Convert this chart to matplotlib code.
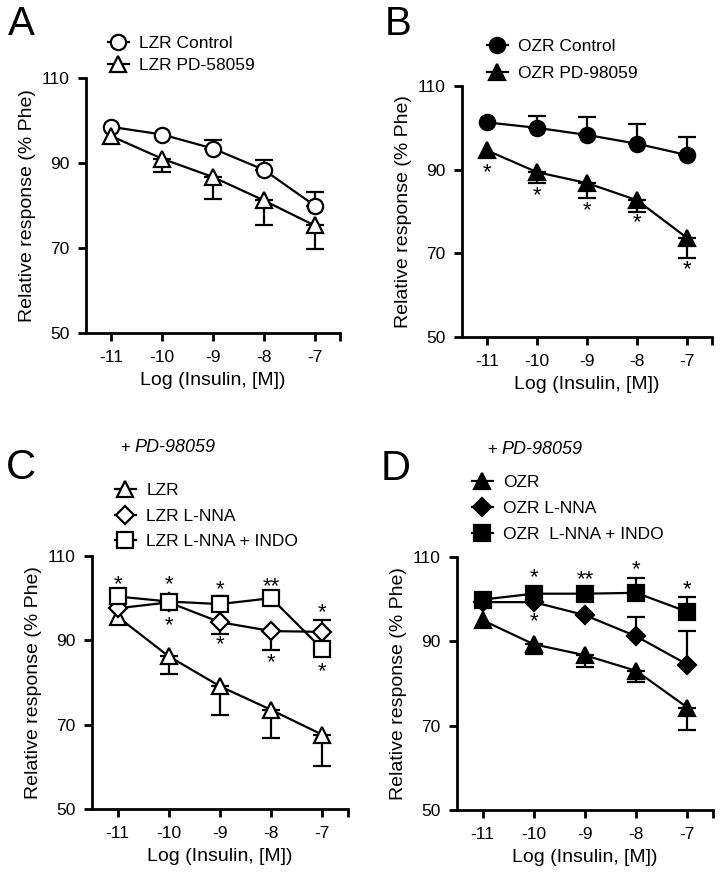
import matplotlib
matplotlib.use("Agg")
import matplotlib.pyplot as plt
from matplotlib.transforms import offset_copy

plt.rcParams["font.family"] = ["Liberation Sans", "DejaVu Sans"]

log_insulin = [-11, -10, -9, -8, -7]

# panel A - lean Zucker rats
lzr_control = [98.5, 96.7, 93.4, 88.4, 80.0]
lzr_control_up = [0, 0, 2.1, 2.4, 3.2]
lzr_pd = [96.3, 91.0, 86.7, 81.2, 75.3]
lzr_pd_down = [0, 3.1, 5.2, 5.7, 5.5]

# panel B - obese Zucker rats
ozr_control = [101.3, 100.0, 98.3, 96.2, 93.5]
ozr_control_up = [0, 2.8, 4.2, 4.7, 4.2]
ozr_pd = [94.6, 89.4, 86.8, 82.7, 73.7]
ozr_pd_down = [0, 2.5, 3.6, 2.7, 4.7]
b_star_x = [-11, -10, -9, -8, -7]
b_star_y = [90.0, 84.4, 80.8, 78.0, 66.9]
b_star_txt = ["*", "*", "*", "*", "*"]

# panel C - LZR + PD-98059
c_lzr = [95.6, 86.2, 79.1, 73.5, 67.6]
c_lzr_down = [0, 4.2, 6.7, 6.7, 7.5]
c_lnna = [97.6, 99.0, 94.3, 92.2, 92.0]
c_lnna_down = [0, 0, 2.8, 4.4, 0]
c_lnna_up = [0, 0, 0, 0, 2.9]
c_indo = [100.4, 99.2, 98.6, 100.0, 87.9]
c_indo_up = [0, 0, 1.8, 0, 0]
c_star_x = [-11, -10, -9, -8, -7, -10, -9, -8, -7]
c_star_y = [103.9, 103.9, 102.7, 103.5, 97.2, 94.1, 89.7, 85.5, 83.2]
c_star_txt = ["*", "*", "*", "**", "*", "*", "*", "*", "*"]

# panel D - OZR + PD-98059
d_ozr = [95.0, 89.3, 86.7, 83.0, 74.3]
d_ozr_down = [0, 2.4, 2.9, 2.6, 5.3]
d_lnna = [99.3, 99.3, 96.2, 91.2, 84.5]
d_lnna_up = [0, 0, 0, 4.6, 8.0]
d_indo = [99.9, 101.3, 101.3, 101.5, 97.0]
d_indo_up = [0, 0, 0, 3.6, 3.4]
d_star_x = [-10, -9, -8, -7, -10]
d_star_y = [105.7, 105.3, 107.6, 102.9, 95.4]
d_star_txt = ["*", "**", "*", "*", "*"]

MS = {"o": 11, "^": 12, "s": 12, "D": 9.5}
STAR_SIZE = 16


def plot_series(ax, y, marker, filled, label, down=None, up=None):
    for err, sign in ((down, -1), (up, 1)):
        if err is None:
            continue
        idx = [i for i, e in enumerate(err) if e > 0]
        if not idx:
            continue
        xs = [log_insulin[i] for i in idx]
        ys = [y[i] for i in idx]
        es = [err[i] for i in idx]
        zeros = [0] * len(idx)
        yerr = [es, zeros] if sign < 0 else [zeros, es]
        ax.errorbar(xs, ys, yerr=yerr, fmt="none", ecolor="k", elinewidth=1.6,
                    capsize=6.5, capthick=1.6, zorder=2)
    ax.plot(log_insulin, y, color="k", lw=1.6, marker=marker, ms=MS[marker],
            mfc="k" if filled else "w", mec="k", mew=1.6, label=label, zorder=3)


def style_axes(ax):
    ax.set_xlim(-11.5, -6.5)
    ax.set_ylim(50, 110)
    ax.set_yticks([50, 70, 90, 110])
    ax.set_xticks(log_insulin)
    ax.set_xticklabels([str(v) for v in log_insulin])
    ax.set_xticks([-6.5], minor=True)
    for s in ("top", "right"):
        ax.spines[s].set_visible(False)
    for s in ("left", "bottom"):
        ax.spines[s].set_linewidth(2)
    ax.tick_params(which="both", direction="out", length=6, width=2, labelsize=12.5, pad=6)
    ax.set_xlabel("Log (Insulin, [M])", fontsize=14, labelpad=5)
    ax.set_ylabel("Relative response (% Phe)", fontsize=14, labelpad=4)


def add_stars(ax, xs, ys, txts):
    # shift baseline down so the asterisk glyph sits on y
    trans = offset_copy(ax.transData, fig=ax.figure, y=-0.38 * STAR_SIZE, units="points")
    for x, y, t in zip(xs, ys, txts):
        ax.text(x, y, t, ha="center", va="baseline", fontsize=STAR_SIZE, transform=trans)


def add_legend(fig, ax, x, y, spacing):
    ax.legend(loc="upper left", bbox_to_anchor=(x / 723, 1 - y / 873),
              bbox_transform=fig.transFigure, frameon=False, fontsize=12.5,
              handlelength=1.2, handletextpad=0.6, labelspacing=spacing,
              borderpad=0, borderaxespad=0)


def add_treatment(fig, x, y):
    fig.text(x / 723, 1 - y / 873, "+", fontsize=12, va="center", ha="left")
    fig.text((x + 14) / 723, 1 - y / 873, "PD-98059", fontsize=13, style="italic",
             va="center", ha="left")


fig = plt.figure(figsize=(7.23, 8.73), dpi=100)

axA = fig.add_axes([86 / 723, 1 - 333 / 873, 254 / 723, 255 / 873])
plot_series(axA, lzr_control, "o", False, "LZR Control", up=lzr_control_up)
plot_series(axA, lzr_pd, "^", False, "LZR PD-58059", down=lzr_pd_down)
style_axes(axA)
add_legend(fig, axA, 108, 36, 0.4)
fig.text(8 / 723, 1 - 24 / 873, "A", fontsize=29, va="center", ha="left")

axB = fig.add_axes([462 / 723, 1 - 337 / 873, 250 / 723, 251 / 873])
plot_series(axB, ozr_control, "o", True, "OZR Control", up=ozr_control_up)
plot_series(axB, ozr_pd, "^", True, "OZR PD-98059", down=ozr_pd_down)
style_axes(axB)
add_stars(axB, b_star_x, b_star_y, b_star_txt)
add_legend(fig, axB, 487, 39, 0.65)
fig.text(385 / 723, 1 - 24 / 873, "B", fontsize=29, va="center", ha="left")

axC = fig.add_axes([92 / 723, 1 - 809 / 873, 256 / 723, 253 / 873])
plot_series(axC, c_lzr, "^", False, "LZR", down=c_lzr_down)
plot_series(axC, c_lnna, "D", False, "LZR L-NNA", down=c_lnna_down, up=c_lnna_up)
plot_series(axC, c_indo, "s", False, "LZR L-NNA + INDO", up=c_indo_up)
style_axes(axC)
add_stars(axC, c_star_x, c_star_y, c_star_txt)
add_legend(fig, axC, 115, 483, 0.6)
fig.text(6 / 723, 1 - 468 / 873, "C", fontsize=30, va="center", ha="left")
add_treatment(fig, 120, 448)

axD = fig.add_axes([457 / 723, 1 - 810 / 873, 256 / 723, 253 / 873])
plot_series(axD, d_ozr, "^", True, "OZR", down=d_ozr_down)
plot_series(axD, d_lnna, "D", True, "OZR L-NNA", up=d_lnna_up)
plot_series(axD, d_indo, "s", True, "OZR  L-NNA + INDO", up=d_indo_up)
style_axes(axD)
add_stars(axD, d_star_x, d_star_y, d_star_txt)
add_legend(fig, axD, 472, 475, 0.62)
fig.text(381 / 723, 1 - 469 / 873, "D", fontsize=30, va="center", ha="left")
add_treatment(fig, 487, 450)

fig.savefig("out.png", dpi=100)
